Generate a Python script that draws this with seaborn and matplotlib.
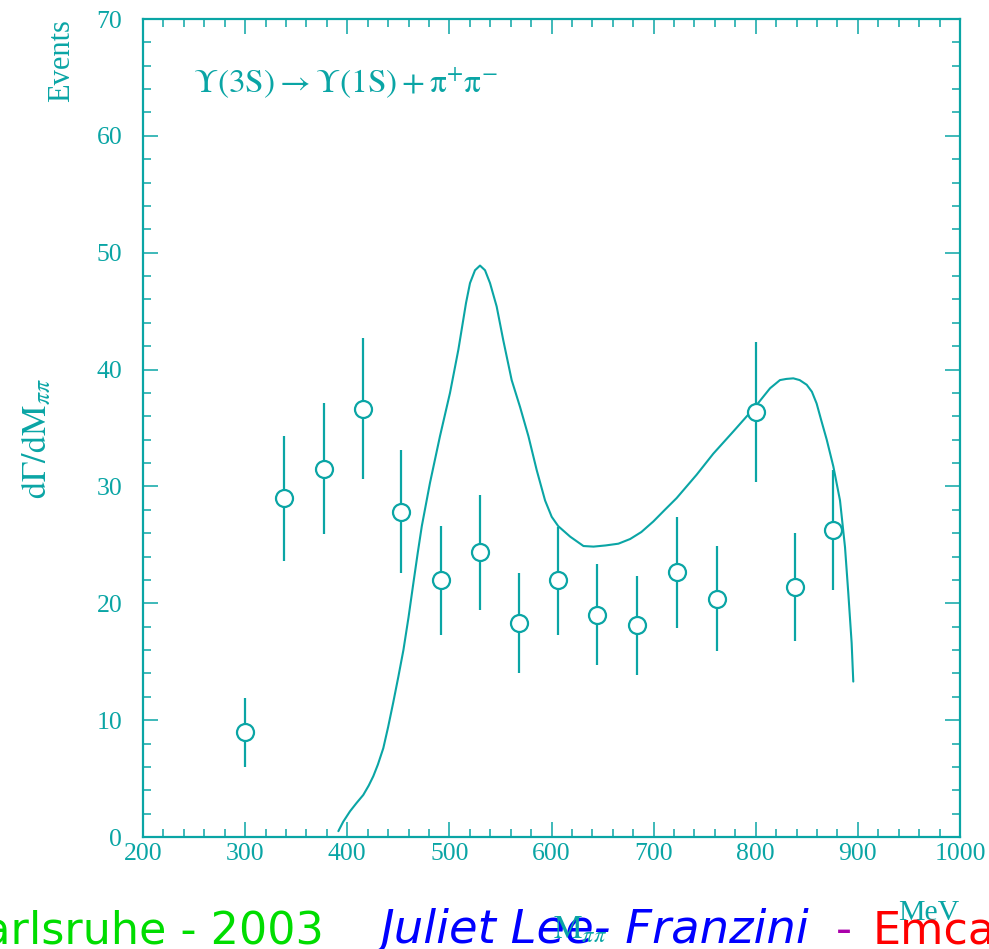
import numpy as np
import pandas as pd
import matplotlib
matplotlib.use("Agg")
import matplotlib.pyplot as plt
import seaborn as sns
from matplotlib.ticker import MultipleLocator

# ---- data ----
mass = [300, 338, 377, 415, 453, 492, 530, 568, 606, 645, 684, 723, 762, 800, 838, 876]
events = [9.0, 29.0, 31.5, 36.6, 27.8, 22.0, 24.4, 18.3, 22.0, 19.0, 18.1, 22.7, 20.4, 36.4, 21.4, 26.3]
err_low = [6.0, 23.6, 25.9, 30.6, 22.6, 17.3, 19.4, 14.0, 17.3, 14.7, 13.9, 17.9, 15.9, 30.4, 16.8, 21.1]
err_high = [11.9, 34.3, 37.1, 42.7, 33.1, 26.6, 29.3, 22.6, 26.5, 23.4, 22.3, 27.4, 24.9, 42.4, 26.0, 31.4]

curve_m = [391.3, 396, 402.7, 409, 415.7, 421, 425.5, 430, 435.3, 440, 445, 450, 455, 460,
           464.7, 469, 473, 481, 490.8, 500.6, 508.8, 516.3, 520.2, 525.1, 530, 534.9, 539.8,
           546.3, 552.8, 561, 569.2, 577.4, 585.5, 593.7, 600.2, 606.6, 618.3, 631.3, 641.1,
           653, 665.5, 677, 688, 699.7, 711, 722.5, 742.1, 758.4, 778, 799.3, 814, 823.7,
           830, 836.8, 843, 849.9, 855, 859.6, 864, 869.5, 876, 882.5, 887.4, 890.6, 893.9, 895.5]
curve_y = [0.5, 1.3, 2.2, 2.9, 3.6, 4.4, 5.2, 6.2, 7.6, 9.4, 11.5, 13.7, 16.0, 18.8,
           21.7, 24.3, 26.6, 30.3, 34.3, 38.0, 41.7, 45.7, 47.4, 48.5, 48.9, 48.5, 47.4,
           45.4, 42.5, 39.1, 36.8, 34.3, 31.4, 28.8, 27.4, 26.6, 25.7, 24.9, 24.85,
           24.95, 25.1, 25.5, 26.1, 27.0, 28.0, 29.0, 31.0, 32.8, 34.7, 36.8, 38.4, 39.1,
           39.2, 39.25, 39.1, 38.7, 38.1, 37.1, 35.7, 34.0, 31.7, 28.8, 24.8, 20.9, 16.6, 13.3]

x_ticks = [200, 300, 400, 500, 600, 700, 800, 900, 1000]
y_ticks = [0, 10, 20, 30, 40, 50, 60, 70]

TEAL = "#0aa5a5"

pts = pd.DataFrame({"mass": mass, "events": events, "lo": err_low, "hi": err_high})
curve = pd.DataFrame({"m": curve_m, "y": curve_y})

sns.set_style("ticks")
plt.rcParams["font.family"] = ["Liberation Serif", "DejaVu Serif"]
plt.rcParams["mathtext.fontset"] = "stix"

W, H = 989, 949
fig = plt.figure(figsize=(W / 100, H / 100), dpi=100)
ax = fig.add_axes([143 / W, (H - 837) / H, (960 - 143) / W, (837 - 19) / H])

# theory curve
sns.lineplot(data=curve, x="m", y="y", sort=False, estimator=None, ax=ax,
             color=TEAL, linewidth=1.5, zorder=2, solid_joinstyle="round",
             solid_capstyle="round")
# error bars
ax.vlines(pts["mass"], pts["lo"], pts["hi"], color=TEAL, linewidth=1.6, zorder=3)
# open circles
sns.scatterplot(data=pts, x="mass", y="events", ax=ax, marker="o", s=150,
                facecolor="white", edgecolor=TEAL, linewidth=1.6, zorder=4)

ax.set_xlim(200, 1000)
ax.set_ylim(0, 70)
ax.set_xticks(x_ticks)
ax.set_yticks(y_ticks)
ax.xaxis.set_minor_locator(MultipleLocator(20))
ax.yaxis.set_minor_locator(MultipleLocator(2))
ax.set_xlabel("")
ax.set_ylabel("")

for s in ax.spines.values():
    s.set_visible(True)
    s.set_color(TEAL)
    s.set_linewidth(1.6)

ax.tick_params(which="both", direction="in", top=True, right=True, colors=TEAL,
               width=1.1, labelsize=18.5, labelcolor=TEAL)
ax.tick_params(axis="x", which="major", length=11, pad=4)
ax.tick_params(axis="x", which="minor", length=5.5)
ax.tick_params(axis="y", which="major", length=11, pad=15)
ax.tick_params(axis="y", which="minor", length=5.5)

# titles and labels
fig.text(193 / W, (H - 92) / H,
         r"$\Upsilon\mathrm{(3S)} \rightarrow \Upsilon\mathrm{(1S)} + \mathrm{\pi}^{+}\mathrm{\pi}^{-}$",
         color=TEAL, fontsize=24, ha="left", va="baseline")
fig.text(62 / W, (H - 61) / H, "Events", rotation=90, color=TEAL, fontsize=22,
         ha="center", va="center")
fig.text(36 / W, (H - 439) / H, r"$\mathrm{d\Gamma/dM}_{\pi\pi}$", rotation=90,
         color=TEAL, fontsize=24.5, ha="center", va="center")
fig.text(898 / W, (H - 920) / H, "MeV", color=TEAL, fontsize=21.5, ha="left", va="baseline")
fig.text(553 / W, (H - 938) / H, r"$\mathrm{M}_{\pi\pi}$", color=TEAL, fontsize=23,
         ha="left", va="baseline")

# footer banner
fig.text(324 / W, 6 / H, "Karlsruhe - 2003", color="#00dd00", fontsize=32,
         family="DejaVu Sans", ha="right", va="baseline")
fig.text(381 / W, 6 / H, "Juliet Lee- Franzini", color="#0000ff", fontsize=33.5,
         family="DejaVu Sans", style="italic", ha="left", va="baseline", zorder=1)
fig.text(844 / W, 6 / H, "-", color="#aa00aa", fontsize=32,
         family="DejaVu Sans", ha="center", va="baseline")
fig.text(873 / W, 6 / H, "Emca", color="#ff0000", fontsize=32,
         family="DejaVu Sans", ha="left", va="baseline")

fig.savefig("out.png", dpi=100)
